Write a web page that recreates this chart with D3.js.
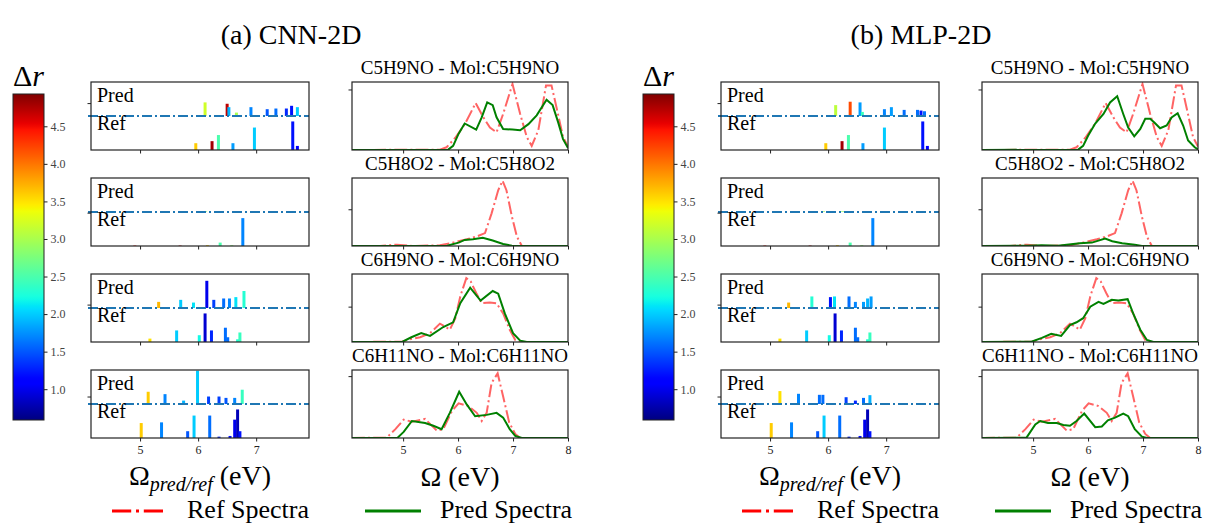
<!DOCTYPE html>
<html>
<head>
<meta charset="utf-8">
<script src="https://cdn.jsdelivr.net/npm/d3@7"></script>
<style>
  body { margin: 0; background: #fff; }
</style>
</head>
<body>
<svg id="fig"></svg>
<script>
// data
var panelTitles = ["(a) CNN-2D", "(b) MLP-2D"]
var molecules = ["C5H9NO", "C5H8O2", "C6H9NO", "C6H11NO"]
var stickTicks = [5, 6, 7]
var specTicks = [5, 6, 7, 8]
var cbTicks = [1.0, 1.5, 2.0, 2.5, 3.0, 3.5, 4.0, 4.5]
var drRange = [0.59, 4.93]
var stickDomain = [4.155, 7.91]
var specDomain = [4.07, 8.0]
var stickOffset = 0.5
var stickYTicks = [0.69, 0.49, 0.55, 0.61]
var specYTicks = [0.89, 0.54, 0.52, 0.91]

// sticks: [energy eV, height, delta r]
var refSticks = [
  [[5.96,0.10,3.6],[6.24,0.13,4.8],[6.35,0.22,2.5],[6.60,0.10,1.8],[6.97,0.33,2.0],[7.63,0.42,1.2],[7.71,0.06,1.1]],
  [[4.91,0.006,4.5],[5.69,0.006,4.7],[6.16,0.01,3.6],[6.38,0.05,2.5],[6.58,0.01,2.8],[6.77,0.41,1.7]],
  [[5.17,0.05,3.5],[5.63,0.17,2.0],[6.02,0.10,2.2],[6.12,0.42,0.9],[6.23,0.17,1.3],[6.47,0.21,1.6],[6.51,0.07,1.6],[6.68,0.04,2.3],[6.72,0.14,2.4]],
  [[5.02,0.22,3.6],[5.37,0.23,1.7],[5.82,0.10,1.5],[5.93,0.33,2.0],[6.20,0.33,1.6],[6.36,0.02,1.3],[6.55,0.03,1.2],[6.63,0.27,1.0],[6.68,0.42,0.8],[6.72,0.10,1.2]]
]
var predSticksCNN = [
  [[6.12,0.20,3.2],[6.50,0.18,4.7],[6.53,0.13,1.9],[6.66,0.05,3.0],[6.91,0.13,1.7],[7.19,0.10,1.5],[7.34,0.11,1.6],[7.52,0.11,1.3],[7.61,0.15,1.2],[7.71,0.13,2.0]],
  [[6.13,0.01,2.9],[6.38,0.01,2.7]],
  [[5.32,0.09,3.7],[5.70,0.12,2.0],[5.92,0.08,2.1],[6.15,0.40,1.0],[6.27,0.12,1.4],[6.44,0.14,1.6],[6.54,0.14,1.7],[6.65,0.16,2.1],[6.79,0.25,2.3]],
  [[5.14,0.18,3.6],[5.43,0.145,1.7],[5.75,0.05,1.9],[5.99,0.49,2.0],[6.18,0.11,1.4],[6.36,0.11,1.4],[6.48,0.09,1.5],[6.63,0.09,1.7],[6.76,0.21,2.4]]
]
var predSticksMLP = [
  [[6.13,0.16,3.1],[6.38,0.21,4.2],[6.55,0.20,1.8],[6.59,0.06,2.4],[6.97,0.10,1.7],[7.09,0.13,1.8],[7.31,0.09,1.6],[7.54,0.09,1.6],[7.60,0.08,1.2],[7.66,0.07,1.6]],
  [[5.92,0.01,2.9],[6.25,0.01,2.9]],
  [[5.32,0.08,3.7],[5.72,0.17,2.3],[6.04,0.16,1.2],[6.11,0.17,2.1],[6.36,0.17,1.6],[6.47,0.09,1.7],[6.61,0.09,1.8],[6.68,0.14,1.9],[6.74,0.17,1.8]],
  [[5.17,0.19,3.5],[5.49,0.15,1.7],[5.85,0.135,1.6],[5.91,0.135,1.6],[6.31,0.10,1.4],[6.47,0.05,1.3],[6.61,0.09,1.6],[6.72,0.13,1.9]]
]

// spectra: [energy eV, intensity]
var refSpectra = [
  [[4.07,0],[5.67,0.005],[5.79,0.04],[5.95,0.18],[6.13,0.39],[6.32,0.69],[6.46,0.48],[6.58,0.33],[6.70,0.26],[6.82,0.53],[6.99,0.97],[7.13,0.53],[7.25,0.19],[7.34,0.06],[7.46,0.29],[7.60,0.95],[7.70,0.95],[7.79,0.63],[7.91,0.19],[8.0,0.05]],
  [[4.07,0],[4.58,0],[4.89,0.02],[5.19,0],[5.67,0.01],[5.91,0.05],[6.16,0.10],[6.34,0.14],[6.49,0.19],[6.61,0.48],[6.73,0.82],[6.81,0.96],[6.88,0.82],[6.98,0.43],[7.07,0.14],[7.16,0],[8.0,0]],
  [[4.07,0],[4.98,0.005],[5.12,0.04],[5.31,0.07],[5.49,0.13],[5.67,0.27],[5.76,0.23],[5.85,0.18],[5.95,0.35],[6.04,0.67],[6.15,0.94],[6.23,0.89],[6.33,0.72],[6.43,0.57],[6.58,0.58],[6.70,0.57],[6.82,0.42],[6.94,0.18],[7.04,0.03],[7.13,0],[8.0,0]],
  [[4.07,0],[4.70,0.005],[4.86,0.13],[5.01,0.27],[5.16,0.24],[5.40,0.28],[5.61,0.11],[5.73,0.13],[5.89,0.40],[6.01,0.51],[6.19,0.47],[6.34,0.37],[6.43,0.25],[6.52,0.37],[6.61,0.81],[6.72,0.95],[6.82,0.61],[6.93,0.23],[7.04,0.06],[7.13,0],[8.0,0]]
]
var predSpectraCNN = [
  [[4.07,0],[5.82,0.005],[5.91,0.06],[6.01,0.24],[6.12,0.39],[6.33,0.30],[6.43,0.48],[6.53,0.70],[6.63,0.66],[6.70,0.48],[6.82,0.31],[6.99,0.30],[7.13,0.29],[7.28,0.38],[7.43,0.51],[7.61,0.74],[7.72,0.66],[7.82,0.41],[7.91,0.16],[8.0,0.03]],
  [[4.07,0],[5.80,0.005],[6.01,0.05],[6.12,0.09],[6.27,0.10],[6.45,0.12],[6.63,0.08],[6.82,0.03],[6.98,0.005],[7.1,0],[8.0,0]],
  [[4.07,0],[4.99,0.005],[5.15,0.07],[5.33,0.13],[5.49,0.09],[5.73,0.22],[5.91,0.29],[6.04,0.57],[6.22,0.80],[6.41,0.61],[6.63,0.75],[6.73,0.71],[6.85,0.42],[7.00,0.13],[7.13,0.02],[7.25,0],[8.0,0]],
  [[4.07,0],[4.90,0.005],[5.01,0.09],[5.16,0.25],[5.40,0.22],[5.55,0.18],[5.70,0.13],[5.85,0.37],[6.02,0.68],[6.16,0.49],[6.31,0.32],[6.52,0.34],[6.70,0.37],[6.82,0.30],[6.94,0.13],[7.04,0.03],[7.16,0],[8.0,0]]
]
var predSpectraMLP = [
  [[4.07,0],[5.82,0.005],[5.91,0.06],[6.00,0.21],[6.13,0.39],[6.28,0.53],[6.40,0.70],[6.53,0.79],[6.64,0.53],[6.73,0.33],[6.84,0.20],[6.95,0.31],[7.04,0.46],[7.13,0.46],[7.21,0.40],[7.31,0.32],[7.43,0.36],[7.52,0.48],[7.63,0.54],[7.73,0.36],[7.82,0.14],[7.94,0.04],[8.0,0.01]],
  [[4.07,0],[4.9,0.005],[5.16,0.01],[5.45,0.002],[5.85,0.04],[6.07,0.05],[6.31,0.11],[6.44,0.07],[6.62,0.04],[6.85,0.02],[6.98,0],[8.0,0]],
  [[4.07,0],[4.97,0.005],[5.16,0.06],[5.33,0.12],[5.51,0.09],[5.67,0.25],[5.79,0.29],[5.91,0.35],[6.04,0.52],[6.19,0.59],[6.28,0.56],[6.43,0.62],[6.55,0.61],[6.72,0.63],[6.82,0.42],[6.95,0.18],[7.07,0.03],[7.19,0],[8.0,0]],
  [[4.07,0],[4.88,0.005],[5.04,0.20],[5.13,0.25],[5.27,0.22],[5.43,0.22],[5.55,0.19],[5.67,0.18],[5.79,0.25],[5.93,0.36],[6.13,0.16],[6.25,0.17],[6.36,0.26],[6.49,0.30],[6.64,0.36],[6.73,0.32],[6.85,0.13],[6.98,0.02],[7.07,0],[8.0,0]]
]

var panels = [
  {title: panelTitles[0], sticks: predSticksCNN, spectra: predSpectraCNN},
  {title: panelTitles[1], sticks: predSticksMLP, spectra: predSpectraMLP}
]

var dims = {
  width: 1212, height: 524,
  panelDx: 630,
  rowTops: [82, 178, 274, 370], rowH: 68,
  stickL: 91, stickR: 309,
  specL: 352, specR: 568,
  cb: {left: 13, right: 44, top: 94, bottom: 420}
}
var serif = "'Liberation Serif'"

var svg = d3.select("#fig")
  .attr("width", dims.width)
  .attr("height", dims.height)
var defs = svg.append("defs")

// matplotlib jet
var jetR = d3.scaleLinear().domain([0, 0.35, 0.66, 0.89, 1]).range([0, 0, 1, 1, 0.5]).clamp(true)
var jetG = d3.scaleLinear().domain([0, 0.125, 0.375, 0.64, 0.91, 1]).range([0, 0, 1, 1, 0, 0]).clamp(true)
var jetB = d3.scaleLinear().domain([0, 0.11, 0.34, 0.65, 1]).range([0.5, 1, 1, 0, 0]).clamp(true)
function jet(t) {
  return d3.rgb(255 * jetR(t), 255 * jetG(t), 255 * jetB(t)).formatHex()
}
var norm = d3.scaleLinear().domain(drRange).range([0, 1]).clamp(true)
var color = d => jet(norm(d))

var grad = defs.append("linearGradient").attr("id", "jetgrad")
  .attr("x1", 0).attr("y1", 1).attr("x2", 0).attr("y2", 0)
grad.selectAll("stop")
  .data(d3.range(0, 1.0001, 0.01))
  .enter().append("stop")
  .attr("offset", d => d)
  .attr("stop-color", d => jet(d))

var xStick = d3.scaleLinear().domain(stickDomain).range([dims.stickL, dims.stickR])
var xSpec = d3.scaleLinear().domain(specDomain).range([dims.specL, dims.specR])

var spine = "#222"
var clipN = 0
function frame(g, x0, x1, top) {
  var id = "clip" + (clipN++)
  defs.append("clipPath").attr("id", id)
    .append("rect").attr("x", x0).attr("y", top).attr("width", x1 - x0).attr("height", dims.rowH)
  return id
}

function styleAxis(sel) {
  sel.attr("font-family", null)
  sel.select(".domain").remove()
  sel.selectAll(".tick line").attr("stroke", spine).attr("stroke-width", 1)
  sel.selectAll(".tick text")
    .attr("font-size", 12).attr("fill", "#222")
}

var dashSpec = "12.8,3.2,2,3.2"

panels.forEach(function(p, pi) {
  var g = svg.append("g").attr("transform", `translate(${pi * dims.panelDx},0)`)

  // panel title
  g.append("text")
    .attr("x", 291).attr("y", 44)
    .attr("text-anchor", "middle")
    .attr("font-size", 28)
    .text(p.title)

  // colorbar
  var cb = dims.cb
  var cbScale = d3.scaleLinear().domain(drRange).range([cb.bottom, cb.top])
  g.append("rect")
    .attr("x", cb.left).attr("y", cb.top)
    .attr("width", cb.right - cb.left).attr("height", cb.bottom - cb.top)
    .attr("fill", "url(#jetgrad)")
    .attr("stroke", spine).attr("stroke-width", 1)
  var cbAxis = g.append("g")
    .attr("transform", `translate(${cb.right},0)`)
    .call(d3.axisRight(cbScale).tickValues(cbTicks).tickSize(3.5).tickPadding(3).tickFormat(d3.format(".1f")))
  styleAxis(cbAxis)
  cbAxis.selectAll(".tick text").attr("fill", "#444")
  var dr = g.append("text").attr("x", cb.left).attr("y", 86).attr("font-size", 30)
  dr.append("tspan").text("Δ")
  dr.append("tspan").attr("font-style", "italic").text("r")

  molecules.forEach(function(mol, mi) {
    var top = dims.rowTops[mi]
    var bottom = top + dims.rowH
    var y = d3.scaleLinear().domain([0, 1]).range([bottom, top])
    var last = mi == molecules.length - 1

    // stick plot
    var sg = g.append("g")
    var cid = frame(sg, dims.stickL, dims.stickR, top)
    var inner = sg.append("g").attr("clip-path", `url(#${cid})`)
    inner.selectAll(".ref")
      .data(refSticks[mi])
      .enter().append("line")
      .attr("x1", d => xStick(d[0])).attr("x2", d => xStick(d[0]))
      .attr("y1", y(0)).attr("y2", d => y(d[1]))
      .attr("stroke", d => color(d[2]))
      .attr("stroke-width", 3)
    inner.selectAll(".pred")
      .data(p.sticks[mi])
      .enter().append("line")
      .attr("x1", d => xStick(d[0])).attr("x2", d => xStick(d[0]))
      .attr("y1", y(stickOffset)).attr("y2", d => y(stickOffset + d[1]))
      .attr("stroke", d => color(d[2]))
      .attr("stroke-width", 3)
    sg.append("line")
      .attr("x1", dims.stickL - 3).attr("x2", dims.stickR)
      .attr("y1", y(stickOffset)).attr("y2", y(stickOffset))
      .attr("stroke", "#1f77b4").attr("stroke-width", 1.8)
      .attr("stroke-dasharray", "10,3,2,3")
    sg.append("text").attr("x", dims.stickL + 6).attr("y", top + 20)
      .attr("font-size", 20).text("Pred")
    sg.append("text").attr("x", dims.stickL + 6).attr("y", top + 48)
      .attr("font-size", 20).text("Ref")
    var sx = sg.append("g").attr("transform", `translate(0,${bottom})`)
      .call(d3.axisBottom(xStick).tickValues(stickTicks).tickSize(3.5).tickPadding(4)
        .tickFormat(last ? d3.format("d") : ""))
    styleAxis(sx)
    var sy = sg.append("g").attr("transform", `translate(${dims.stickL},0)`)
      .call(d3.axisLeft(y).tickValues([stickYTicks[mi]]).tickSize(3.5).tickFormat(""))
    styleAxis(sy)
    sg.append("rect")
      .attr("x", dims.stickL).attr("y", top)
      .attr("width", dims.stickR - dims.stickL).attr("height", dims.rowH)
      .attr("fill", "none").attr("stroke", spine).attr("stroke-width", 1.2)

    // spectra plot
    var pg = g.append("g")
    var cid2 = frame(pg, dims.specL, dims.specR, top)
    var line = d3.line().x(d => xSpec(d[0])).y(d => y(d[1]))
    var inner2 = pg.append("g").attr("clip-path", `url(#${cid2})`)
    inner2.append("path")
      .datum(refSpectra[mi])
      .attr("d", line)
      .attr("fill", "none")
      .attr("stroke", "#ff6464").attr("stroke-width", 2)
      .attr("stroke-dasharray", dashSpec)
    inner2.append("path")
      .datum(p.spectra[mi])
      .attr("d", line)
      .attr("fill", "none")
      .attr("stroke", "#008000").attr("stroke-width", 2)
    pg.append("text")
      .attr("x", (dims.specL + dims.specR) / 2).attr("y", top - 8)
      .attr("text-anchor", "middle")
      .attr("font-size", 19)
      .text(mol + " - Mol:" + mol)
    var px = pg.append("g").attr("transform", `translate(0,${bottom})`)
      .call(d3.axisBottom(xSpec).tickValues(specTicks).tickSize(3.5).tickPadding(4)
        .tickFormat(last ? d3.format("d") : ""))
    styleAxis(px)
    var py = pg.append("g").attr("transform", `translate(${dims.specL},0)`)
      .call(d3.axisLeft(y).tickValues([specYTicks[mi]]).tickSize(3.5).tickFormat(""))
    styleAxis(py)
    pg.append("rect")
      .attr("x", dims.specL).attr("y", top)
      .attr("width", dims.specR - dims.specL).attr("height", dims.rowH)
      .attr("fill", "none").attr("stroke", spine).attr("stroke-width", 1.2)
  })

  // x labels
  var xl = g.append("text")
    .attr("x", (dims.stickL + dims.stickR) / 2).attr("y", 485)
    .attr("text-anchor", "middle").attr("font-size", 28)
  xl.append("tspan").text("Ω")
  xl.append("tspan").attr("font-style", "italic").attr("font-size", 20).attr("dy", 6).text("pred/ref")
  xl.append("tspan").attr("dy", -6).text(" (eV)")
  g.append("text")
    .attr("x", (dims.specL + dims.specR) / 2).attr("y", 486)
    .attr("text-anchor", "middle").attr("font-size", 28)
    .text("Ω (eV)")

  // legend
  g.append("line").attr("x1", 112).attr("x2", 165).attr("y1", 511).attr("y2", 511)
    .attr("stroke", "red").attr("stroke-width", 3).attr("stroke-dasharray", "19.2,4.8,3,4.8")
  g.append("text").attr("x", 187).attr("y", 518).attr("font-size", 26).text("Ref Spectra")
  g.append("line").attr("x1", 365).attr("x2", 421).attr("y1", 511).attr("y2", 511)
    .attr("stroke", "green").attr("stroke-width", 3)
  g.append("text").attr("x", 440).attr("y", 518).attr("font-size", 26).text("Pred Spectra")
})

// same font everywhere, set per text like the test page
svg.selectAll("text").style("font-family", serif)
</script>
</body>
</html>
